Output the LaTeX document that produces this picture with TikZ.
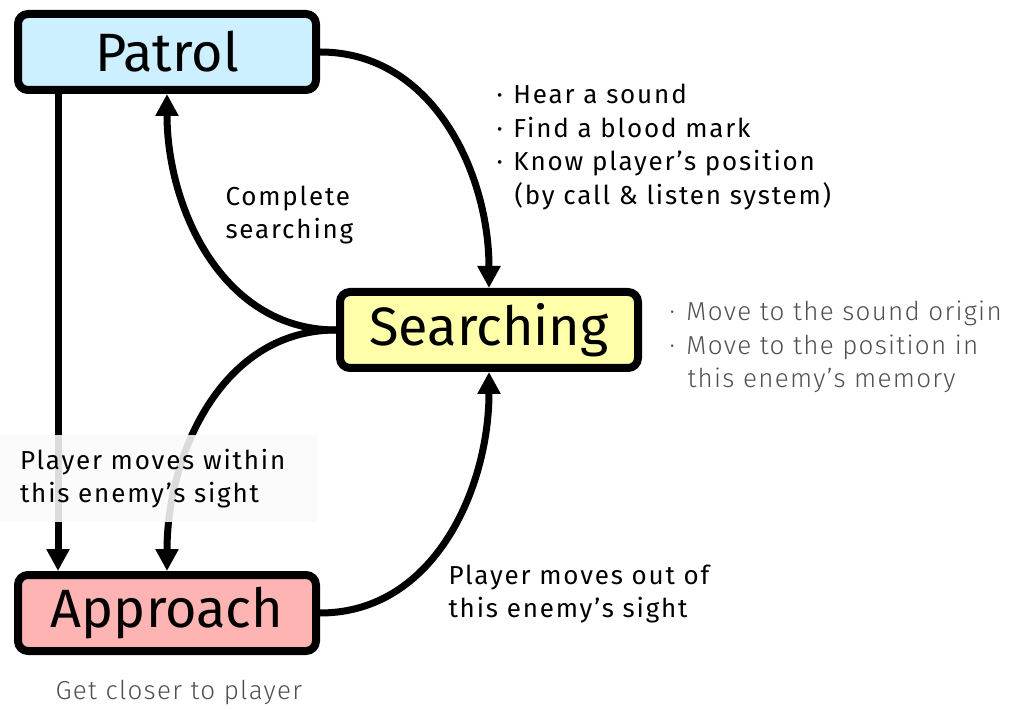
\documentclass[tikz,border=0pt]{standalone}
\usepackage{fontspec}
\setsansfont{Fira Sans}
\newfontfamily\notefont{Fira Sans}[LetterSpace=7]
\newfontfamily\lightfont{Fira Sans Light}[LetterSpace=5]
\usetikzlibrary{arrows.meta}
\definecolor{patrolblue}{RGB}{204,240,255}
\definecolor{searchyellow}{RGB}{255,255,170}
\definecolor{approachpink}{RGB}{255,180,180}
\definecolor{notegray}{RGB}{80,80,80}
\newcommand{\dotitem}{\makebox[8.5pt][l]{·}}

\begin{document}
\begin{tikzpicture}[x=0.5pt,y=-0.5pt,->,>={Triangle[length=11pt,width=11pt]},line width=3.5pt,
    main node/.style={draw,line width=4pt,rounded corners=5pt,minimum width=149pt,minimum height=38pt,inner sep=0pt,font=\sffamily\fontsize{27}{30}\selectfont},
    note/.style={align=left,inner sep=0pt,anchor=west,font=\notefont\fontsize{13}{16.75}\selectfont},
    gray note/.style={note,text=notegray,font=\lightfont\fontsize{13}{16.75}\selectfont}]
    \useasboundingbox (0,0) rectangle (1011,710);

    \node[main node,fill=patrolblue] (1) at (167,52) {Patrol};
    \node[main node,fill=searchyellow] (2) at (489,330) {Searching};
    \node[main node,fill=approachpink] (3) at (167,613) {Approach};

    \path
        (1) edge[out=0,in=90] (2.north)
        (2) edge[out=180,in=-90] (1.south)
        ([xshift=-54.5pt]1.south) edge ([xshift=-54.5pt]3.north)
        (2) edge[out=180,in=90] (3.north)
        (3) edge[out=0,in=-90] (2.south)
        ;

    \node[note] (hear) at (493,147) {\dotitem Hear a sound\\ \dotitem Find a blood mark\\ \dotitem Know player’s position\\ \hspace*{9pt}(by call \& listen system)};
    \node[note] (complete) at (222,215) {Complete\\ searching};
    \node[note,anchor=center,fill=black!2,fill opacity=0.88,text opacity=1,inner xsep=10pt,text width=138.5pt,minimum height=43.5pt] (within) at (158.5,478.5) {Player moves within\\ this enemy’s sight};
    \node[note] (outof) at (445,594) {Player moves out of\\ this enemy’s sight};
    \node[gray note] (move) at (666,347) {\dotitem Move to the sound origin\\ \dotitem Move to the position in\\ \hspace*{9pt}this enemy’s memory};
    \node[gray note] (closer) at (52,693) {Get closer to player};
\end{tikzpicture}
\end{document}
